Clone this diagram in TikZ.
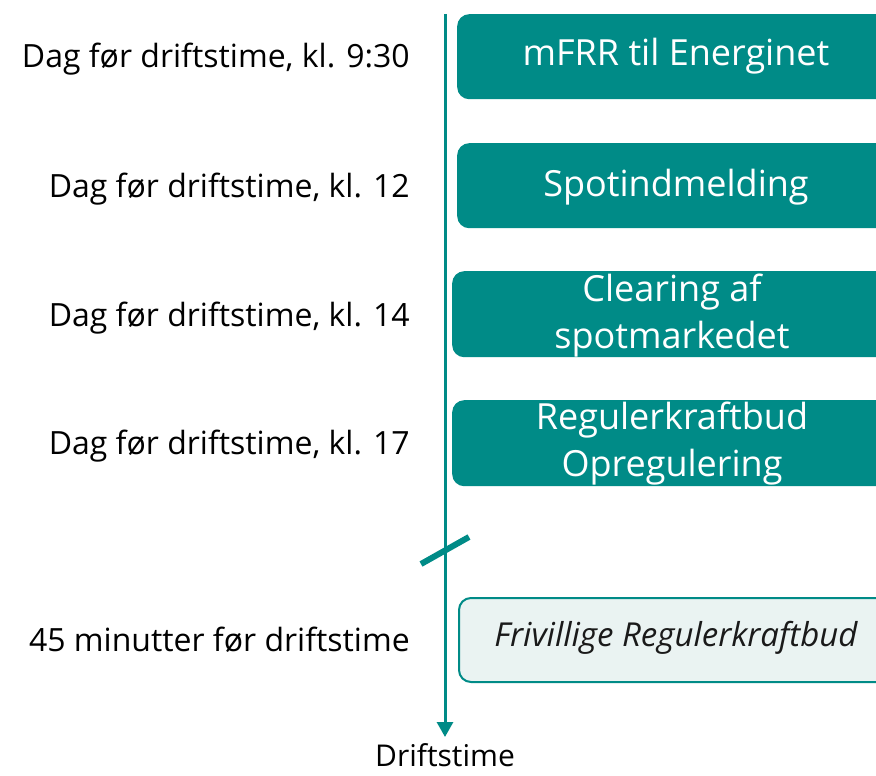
\documentclass[tikz,border=0pt]{standalone}
\usepackage{fontspec}
\setmainfont{Open Sans}
\usetikzlibrary{arrows.meta}
\definecolor{teal1}{HTML}{008B87}
\definecolor{palebg}{HTML}{EAF3F2}
\definecolor{darktxt}{HTML}{1A1A1A}
\begin{document}
\begin{tikzpicture}[x=1pt,y=-1pt,
  tealbox/.style={draw=none, fill=teal1, rounded corners=12pt, anchor=north west, inner sep=0pt},
  boxtext/.style={text=white, font=\fontsize{36}{46}\selectfont, anchor=base, inner sep=0pt},
  paletbox/.style={draw=teal1, line width=2pt, fill=palebg, rounded corners=12pt, anchor=north west, inner sep=0pt},
  lefttext/.style={anchor=base east, inner sep=0pt, font=\fontsize{32}{38}\selectfont, text=black},
  axis/.style={draw=teal1, line width=3pt, -{Triangle[width=16pt,length=15pt]}},
  breakmark/.style={draw=teal1, line width=6pt}
]
\clip (0,0) rectangle (876,776);
\fill[white] (0,0) rectangle (876,776);

% boxes
\node[tealbox, minimum width=438pt, minimum height=85pt] (b1) at (457,14) {};
\node[boxtext] (t1) at (676,66) {mFRR til Energinet};
\node[tealbox, minimum width=438pt, minimum height=85pt] (b2) at (457,143) {};
\node[boxtext] (t2) at (676,196) {Spotindmelding};
\node[tealbox, minimum width=448pt, minimum height=86pt] (b3) at (452,271) {};
\node[boxtext] (t3a) at (672,301) {Clearing af};
\node[boxtext] (t3b) at (672,348) {spotmarkedet};
\node[tealbox, minimum width=448pt, minimum height=86pt] (b4) at (452,400) {};
\node[boxtext] (t4a) at (672,429) {Regulerkraftbud};
\node[boxtext] (t4b) at (672,476) {Opregulering};
\node[paletbox, minimum width=440pt, minimum height=84pt] (b5) at (458,597) {};
\node[anchor=base, inner sep=0pt, text=darktxt, font=\fontsize{33}{38}\selectfont\itshape] (t5) at (676,646) {Frivillige Regulerkraftbud};

% left labels
\node[lefttext] (l1) at (410,67) {Dag før driftstime, kl. 9:30};
\node[lefttext] (l2) at (410,197) {Dag før driftstime, kl. 12};
\node[lefttext] (l3) at (410,326) {Dag før driftstime, kl. 14};
\node[lefttext] (l4) at (410,454) {Dag før driftstime, kl. 17};
\node[lefttext] (l5) at (410,651) {45 minutter før driftstime};

% axis
\coordinate (top) at (445,14);
\coordinate (bot) at (445,737);
\draw[axis] (top) -- (bot);
\node[anchor=base, inner sep=0pt, font=\fontsize{30}{36}\selectfont] (drift) at (445,766) {Driftstime};

% break mark
\coordinate (bm1) at (421,564);
\coordinate (bm2) at (469,537);
\draw[breakmark] (bm1) -- (bm2);
\end{tikzpicture}
\end{document}
